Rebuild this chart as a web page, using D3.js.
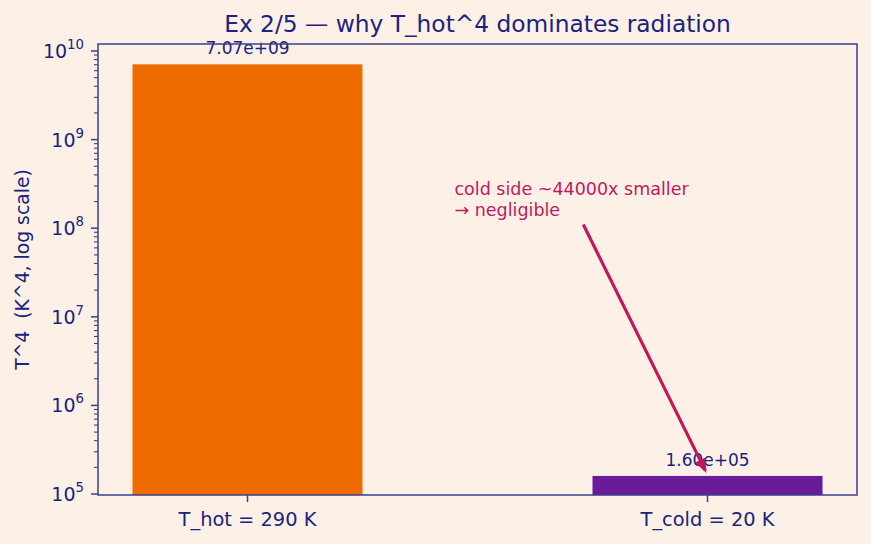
<!DOCTYPE html>
<html>
<head>
<meta charset="utf-8">
<script src="https://cdn.jsdelivr.net/npm/d3@7"></script>
<style>
  html, body { margin: 0; padding: 0; background: #fdf1e7; }
  svg { display: block; font-family: "DejaVu Sans", sans-serif; }
</style>
</head>
<body>
<div id="chart"></div>
<script>
// T^4 for the hot and cold sides
const categories = ['T_hot = 290 K', 'T_cold = 20 K'];
const values = [7.07e9, 1.6e5];
const barLabels = ['7.07e+09', '1.60e+05'];
const barColors = ['#ef6c00', '#6a1b9a'];
const yDecades = [5, 6, 7, 8, 9, 10];

const W = 871, H = 544;
const m = { top: 44, right: 14, bottom: 49, left: 98 };
const iw = W - m.left - m.right, ih = H - m.top - m.bottom;
const navy = '#1a237e', spine = '#3a3f8c', accent = '#c2185b';

const svg = d3.select('#chart').append('svg')
  .attr('width', W).attr('height', H);

svg.append('rect').attr('width', W).attr('height', H).attr('fill', '#fdf1e7');

// x: matplotlib-style positions 0,1 with 0.5 wide bars and 5% margins
const x = d3.scaleLinear().domain([-0.325, 1.325]).range([0, iw]);
const y = d3.scaleLog().domain([Math.pow(10, 4.989), Math.pow(10, 10.079)]).range([ih, 0]);

const g = svg.append('g').attr('transform', `translate(${m.left},${m.top})`);

// bars
g.selectAll('rect.bar').data(values).enter().append('rect')
  .attr('class', 'bar')
  .attr('x', (d, i) => x(i - 0.25))
  .attr('width', x(0.25) - x(-0.25))
  .attr('y', d => y(d))
  .attr('height', d => ih - y(d))
  .attr('fill', (d, i) => barColors[i]);

// value labels
g.selectAll('text.val').data(values).enter().append('text')
  .attr('class', 'val')
  .attr('x', (d, i) => x(i))
  .attr('y', d => y(d) - 10)
  .attr('text-anchor', 'middle')
  .attr('font-size', 17)
  .attr('fill', navy)
  .text((d, i) => barLabels[i]);

// y axis: decades with superscripts, minor ticks 2..9
const minor = [];
yDecades.forEach(e => { for (let k = 2; k <= 9; k++) { const v = k * Math.pow(10, e); if (v <= y.domain()[1]) minor.push(v); } });

const ya = g.append('g');
ya.selectAll('line.minor').data(minor).enter().append('line')
  .attr('x1', -4).attr('x2', 0)
  .attr('y1', d => y(d)).attr('y2', d => y(d))
  .attr('stroke', spine).attr('stroke-width', 1.1);
ya.selectAll('line.major').data(yDecades).enter().append('line')
  .attr('x1', -7).attr('x2', 0)
  .attr('y1', d => y(Math.pow(10, d))).attr('y2', d => y(Math.pow(10, d)))
  .attr('stroke', spine).attr('stroke-width', 1.5);
const yl = ya.selectAll('text.tick').data(yDecades).enter().append('text')
  .attr('x', -14)
  .attr('y', d => y(Math.pow(10, d)) + 7)
  .attr('text-anchor', 'end')
  .attr('font-size', 19)
  .attr('fill', navy);
yl.append('tspan').text('10');
yl.append('tspan').attr('dy', -9).attr('font-size', 13.3).text(d => d);

// x axis ticks
const xa = g.append('g').attr('transform', `translate(0,${ih})`);
xa.selectAll('line').data(categories).enter().append('line')
  .attr('x1', (d, i) => x(i)).attr('x2', (d, i) => x(i))
  .attr('y1', 0).attr('y2', 7)
  .attr('stroke', spine).attr('stroke-width', 1.5);
xa.selectAll('text').data(categories).enter().append('text')
  .attr('x', (d, i) => x(i))
  .attr('y', 31)
  .attr('text-anchor', 'middle')
  .attr('font-size', 19.4)
  .attr('fill', navy)
  .text(d => d);

// frame
g.append('rect').attr('width', iw).attr('height', ih)
  .attr('fill', 'none').attr('stroke', spine).attr('stroke-width', 1.5);

// y label
svg.append('text')
  .attr('transform', `translate(29,${m.top + ih / 2}) rotate(-90)`)
  .attr('text-anchor', 'middle')
  .attr('font-size', 18.8)
  .attr('fill', navy)
  .attr('xml:space', 'preserve')
  .style('white-space', 'pre')
  .text('T^4  (K^4, log scale)');

// title
svg.append('text')
  .attr('x', m.left + iw / 2).attr('y', 32)
  .attr('text-anchor', 'middle')
  .attr('font-size', 23.3)
  .attr('fill', navy)
  .text('Ex 2/5 \u2014 why T_hot^4 dominates radiation');

// annotation
const defs = svg.append('defs');
defs.append('marker').attr('id', 'head')
  .attr('viewBox', '0 0 10 10').attr('refX', 8).attr('refY', 5)
  .attr('markerWidth', 4.5).attr('markerHeight', 4.5).attr('orient', 'auto')
  .append('path').attr('d', 'M0,1 L10,5 L0,9 Z').attr('fill', accent);

const arrowFrom = [0.73, 1.1e8], arrowTo = [0.995, 1.85e5];
g.append('line')
  .attr('x1', x(arrowFrom[0])).attr('y1', y(arrowFrom[1]))
  .attr('x2', x(arrowTo[0])).attr('y2', y(arrowTo[1]))
  .attr('stroke', accent).attr('stroke-width', 3.2)
  .attr('marker-end', 'url(#head)');

const ann = g.append('text')
  .attr('x', x(0.45)).attr('y', y(2.4e8))
  .attr('font-size', 17.5)
  .attr('fill', accent);
ann.append('tspan').attr('x', x(0.45)).text('cold side ~44000x smaller');
ann.append('tspan').attr('x', x(0.45)).attr('dy', 21).text('\u2192 negligible');
</script>
</body>
</html>
